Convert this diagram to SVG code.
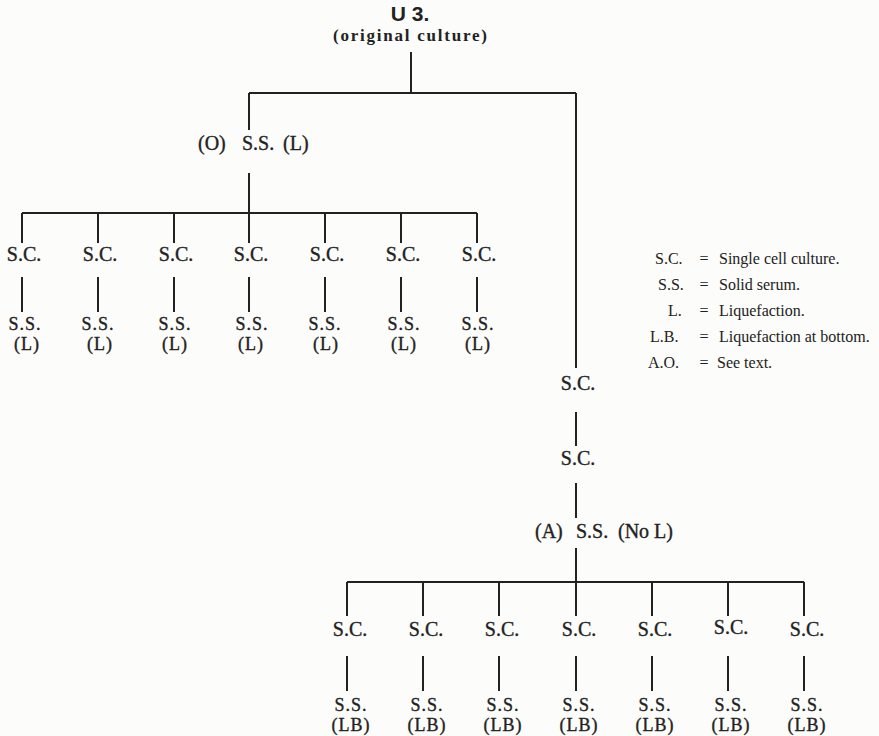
<svg xmlns="http://www.w3.org/2000/svg" width="879" height="736" viewBox="0 0 879 736">
<style>
.bg{fill:#fcfcfa}
.ln{stroke:#222;stroke-width:2;fill:none}
.t{font-family:"Liberation Serif","Times New Roman",serif;font-size:20px;fill:#222;stroke:#222;stroke-width:0.35;text-anchor:middle}
.k{font-size:18px;letter-spacing:1px}
.s{text-anchor:start}
.title{font-family:"Liberation Sans",Arial,sans-serif;font-size:21px;font-weight:bold;fill:#222;text-anchor:middle}
.sub{font-family:"Liberation Serif","Times New Roman",serif;font-size:17px;font-weight:bold;fill:#222;text-anchor:middle}
.lg{font-family:"Liberation Serif","Times New Roman",serif;font-size:16px;fill:#222}
.eq{text-anchor:middle}
</style>
<rect class="bg" x="0" y="0" width="879" height="736"/>
<g id="connectors">
<path class="ln" d="M411,52 V93 M249,93 H576 M249,93 V130 M576,93 V368"/>
<path class="ln" d="M249,173 V213 M22,213 H477 M22,213 V243 M98,213 V243 M174,213 V243 M249,213 V243 M325,213 V243 M401,213 V243 M477,213 V243"/>
<path class="ln" d="M22,277 V312 M98,277 V312 M174,277 V312 M249,277 V312 M325,277 V312 M401,277 V312 M477,277 V312"/>
<path class="ln" d="M576,412 V446 M576,483 V518 M576,548 V582 M347,582 H804 M347,582 V616 M423,582 V616 M499,582 V616 M576,582 V616 M652,582 V616 M728,582 V616 M804,582 V616"/>
<path class="ln" d="M347,656 V691 M423,656 V691 M499,656 V691 M576,656 V691 M652,656 V691 M728,656 V691 M804,656 V691"/>
</g>
<g id="root">
<text class="title" x="410" y="21">U 3.</text>
<text class="sub" x="410" y="41" textLength="154" lengthAdjust="spacing">(original culture)</text>
</g>
<g id="nodeO">
<text class="t s" y="150"><tspan x="198">(O)</tspan><tspan x="242">S.S.</tspan><tspan x="283">(L)</tspan></text>
</g>
<g id="left-sc">
<text class="t" x="24" y="261">S.C.</text>
<text class="t" x="100" y="261">S.C.</text>
<text class="t" x="176" y="261">S.C.</text>
<text class="t" x="251" y="261">S.C.</text>
<text class="t" x="327" y="261">S.C.</text>
<text class="t" x="403" y="261">S.C.</text>
<text class="t" x="479" y="261">S.C.</text>
</g>
<g id="left-ss">
<text class="t k" x="25" y="330">S.S.<tspan x="27" dy="20">(L)</tspan></text>
<text class="t k" x="98" y="330">S.S.<tspan x="100" dy="20">(L)</tspan></text>
<text class="t k" x="175" y="330">S.S.<tspan x="175" dy="20">(L)</tspan></text>
<text class="t k" x="252" y="330">S.S.<tspan x="251" dy="20">(L)</tspan></text>
<text class="t k" x="325" y="330">S.S.<tspan x="326" dy="20">(L)</tspan></text>
<text class="t k" x="404" y="330">S.S.<tspan x="404" dy="20">(L)</tspan></text>
<text class="t k" x="478" y="330">S.S.<tspan x="478" dy="20">(L)</tspan></text>
</g>
<g id="right-sc1"><text class="t" x="578" y="390">S.C.</text></g>
<g id="right-sc2"><text class="t" x="578" y="465">S.C.</text></g>
<g id="nodeA">
<text class="t s" y="538"><tspan x="535">(A)</tspan><tspan x="576">S.S.</tspan><tspan x="618">(No L)</tspan></text>
</g>
<g id="right-sc">
<text class="t" x="350" y="636">S.C.</text>
<text class="t" x="426" y="636">S.C.</text>
<text class="t" x="502" y="636">S.C.</text>
<text class="t" x="579" y="636">S.C.</text>
<text class="t" x="655" y="636">S.C.</text>
<text class="t" x="731" y="634">S.C.</text>
<text class="t" x="807" y="636">S.C.</text>
</g>
<g id="right-ss">
<text class="t k" x="351" y="711">S.S.<tspan x="351" dy="20">(LB)</tspan></text>
<text class="t k" x="427" y="711">S.S.<tspan x="427" dy="20">(LB)</tspan></text>
<text class="t k" x="503" y="711">S.S.<tspan x="503" dy="20">(LB)</tspan></text>
<text class="t k" x="579" y="711">S.S.<tspan x="579" dy="20">(LB)</tspan></text>
<text class="t k" x="655" y="711">S.S.<tspan x="655" dy="20">(LB)</tspan></text>
<text class="t k" x="731" y="711">S.S.<tspan x="731" dy="20">(LB)</tspan></text>
<text class="t k" x="807" y="711">S.S.<tspan x="807" dy="20">(LB)</tspan></text>
</g>
<g id="legend">
<text class="lg" x="655" y="264">S.C.</text><text class="lg eq" x="704" y="264">=</text><text class="lg" x="719" y="264">Single cell culture.</text>
<text class="lg" x="658" y="290">S.S.</text><text class="lg eq" x="704" y="290">=</text><text class="lg" x="719" y="290">Solid serum.</text>
<text class="lg" x="668" y="316">L.</text><text class="lg eq" x="704" y="316">=</text><text class="lg" x="719" y="316">Liquefaction.</text>
<text class="lg" x="650" y="342">L.B.</text><text class="lg eq" x="704" y="342">=</text><text class="lg" x="719" y="342">Liquefaction at bottom.</text>
<text class="lg" x="648" y="368">A.O.</text><text class="lg eq" x="704" y="368">=</text><text class="lg" x="717" y="368">See text.</text>
</g>
</svg>
